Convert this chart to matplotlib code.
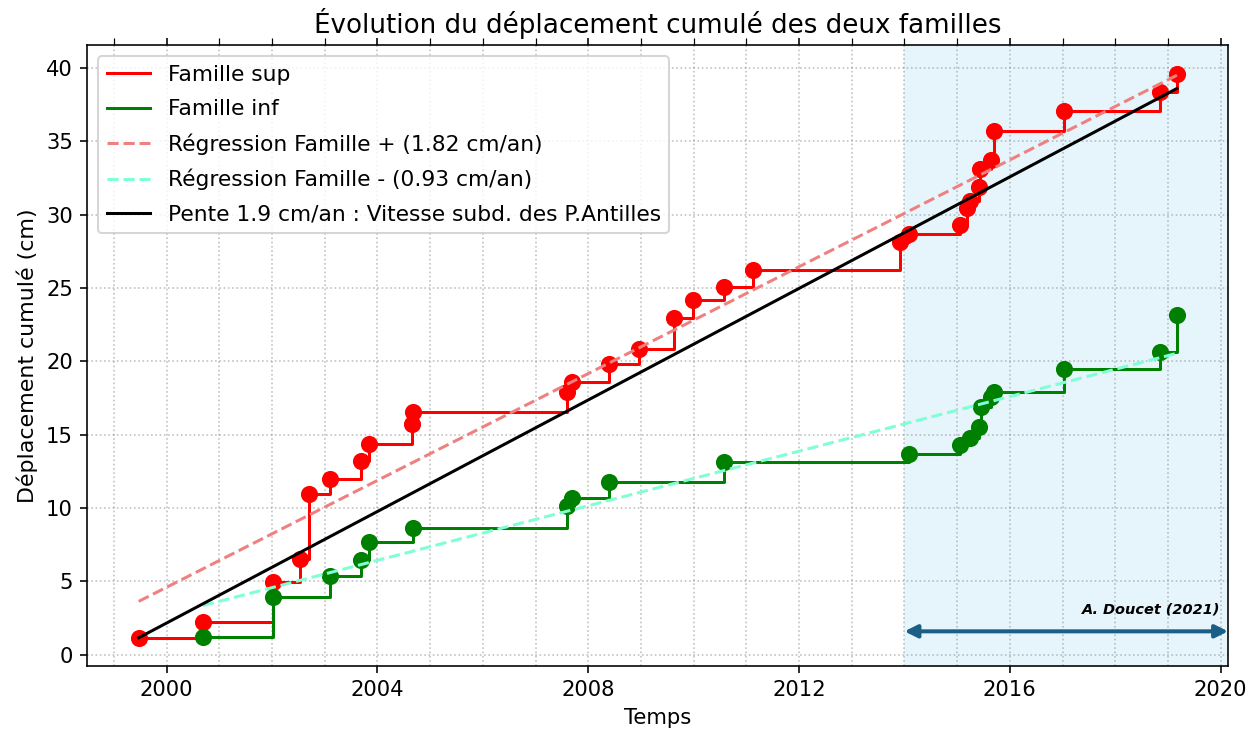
import numpy as np
import matplotlib
matplotlib.use('Agg')
import matplotlib.pyplot as plt
from matplotlib.ticker import MultipleLocator

# dates des événements (années décimales) et déplacement cumulé (cm)
t_sup = [1999.47, 2000.69, 2002.02, 2002.54, 2002.71, 2003.10, 2003.69, 2003.84,
         2004.65, 2004.67, 2007.59, 2007.69, 2008.39, 2008.96, 2009.63, 2009.98,
         2010.58, 2011.13, 2013.91, 2014.08, 2015.05, 2015.18, 2015.24, 2015.41,
         2015.43, 2015.65, 2015.69, 2017.03, 2018.85, 2019.17]
d_sup = [1.16, 2.25, 4.95, 6.54, 10.95, 12.0, 13.22, 14.38,
         15.73, 16.54, 17.91, 18.56, 19.84, 20.84, 22.95, 24.2,
         25.06, 26.22, 28.13, 28.7, 29.31, 30.45, 30.9, 31.88,
         33.13, 33.7, 35.7, 37.04, 38.33, 39.6]

t_inf = [2000.69, 2002.02, 2003.10, 2003.69, 2003.84, 2004.67, 2007.59, 2007.69,
         2008.39, 2010.58, 2014.08, 2015.05, 2015.24, 2015.41, 2015.45, 2015.65,
         2015.69, 2017.03, 2018.85, 2019.17]
d_inf = [1.21, 3.91, 5.34, 6.48, 7.68, 8.61, 10.11, 10.68,
         11.77, 13.13, 13.7, 14.27, 14.77, 15.5, 16.89, 17.57,
         17.88, 19.5, 20.61, 23.16]

pente_sup, origine_sup = 1.82, 3.64   # cm/an, valeur au premier événement
pente_inf, origine_inf = 0.93, 3.36
pente_subd = 1.9
debut_zone = 2014

fig = plt.figure(figsize=(12.58 / 1.45, 7.33 / 1.45), dpi=145)
ax = fig.add_axes([0.0692, 0.0914, 0.907, 0.8466])

ax.axvspan(debut_zone, 2021, color='#e6f5fc', zorder=0, lw=0)

ax.step(t_sup, d_sup, where='post', color='red', label='Famille sup')
ax.step(t_inf, d_inf, where='post', color='green', label='Famille inf')
ax.plot(t_sup, d_sup, 'o', color='red', ms=7.5)
ax.plot(t_inf, d_inf, 'o', color='green', ms=7.5)

xs = np.array([t_sup[0], t_sup[-1]])
ax.plot(xs, origine_sup + pente_sup * (xs - t_sup[0]), '--', color='#f08080',
        label='Régression Famille + (1.82 cm/an)')
xi = np.array([t_inf[0], t_inf[-1]])
ax.plot(xi, origine_inf + pente_inf * (xi - t_inf[0]), '--', color='#7fffd4',
        label='Régression Famille - (0.93 cm/an)')
ax.plot(xs, d_sup[0] + pente_subd * (xs - t_sup[0]), color='black',
        label='Pente 1.9 cm/an : Vitesse subd. des P.Antilles')

ax.set_xlim(1998.49, 2020.14)
ax.xaxis.set_major_locator(MultipleLocator(4))
ax.xaxis.set_minor_locator(MultipleLocator(1))
ax.yaxis.set_major_locator(MultipleLocator(5))
ax.tick_params(which='major', top=True, labelsize=10.5)
ax.tick_params(which='minor', bottom=False, top=True, length=3.5)
ax.grid(which='both', axis='x', linestyle=':', color='gray', alpha=0.5)
ax.grid(which='major', axis='y', linestyle=':', color='gray', alpha=0.5)

ax.annotate('', xy=(debut_zone, 1.6), xytext=(2020.14, 1.6),
            arrowprops=dict(arrowstyle='<|-|>', color='#1b5e86', lw=2,
                            mutation_scale=13, shrinkA=0, shrinkB=0))
ax.text(2020.0, 2.8, 'A. Doucet (2021)', ha='right', va='baseline',
        fontsize=7.2, fontweight='bold', fontstyle='italic')

ax.set_title('Évolution du déplacement cumulé des deux familles', fontsize=13)
ax.set_xlabel('Temps', fontsize=10.5)
ax.set_ylabel('Déplacement cumulé (cm)', fontsize=11)
ax.legend(loc='upper left', fontsize=10.8, labelspacing=0.65)

fig.savefig('out.png', dpi=145)
